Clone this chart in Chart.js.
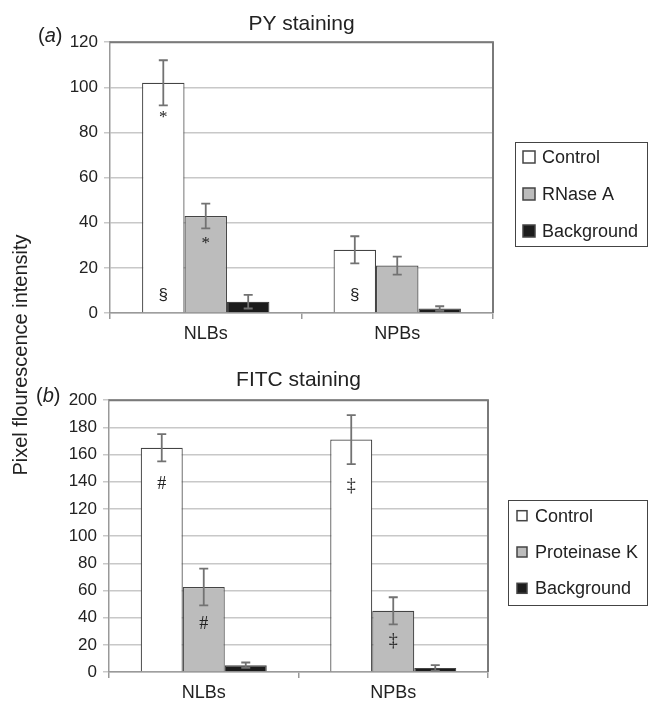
<!DOCTYPE html>
<html>
<head>
<meta charset="utf-8">
<script src="https://cdn.jsdelivr.net/npm/chart.js@4"></script>
<style>
  html, body { margin: 0; padding: 0; background: #fff; }
  #wrap { position: relative; width: 648px; height: 702px; font-family: "Liberation Sans", Arial, sans-serif; color: #222; }
  canvas { position: absolute; left: 0; }
  #chartA { top: 0; }
  #chartB { top: 345px; }
  .panel { position: absolute; font-size: 20px; line-height: 24px; }
  #ylabel { position: absolute; left: 20px; top: 355px; transform: translate(-50%, -50%) rotate(-90deg); white-space: nowrap; font-size: 20px; }
</style>
</head>
<body>
<div id="wrap">
  <canvas id="chartA" width="648" height="345"></canvas>
  <canvas id="chartB" width="648" height="357"></canvas>
  <div class="panel" style="left:38px; top:23px;">(<i>a</i>)</div>
  <div class="panel" style="left:36px; top:383px;">(<i>b</i>)</div>
  <div id="ylabel">Pixel flourescence intensity</div>
</div>
<script>
const categories = ['NLBs', 'NPBs'];

// (a) PY staining
const pyControl = [102, 28];
const pyControlErr = [10, 6];
const pyRnase = [43, 21];
const pyRnaseErr = [5.5, 4];
const pyBackground = [5, 2];
const pyBackgroundErr = [3, 1];

// (b) FITC staining
const fitcControl = [165, 171];
const fitcControlErr = [10, 18];
const fitcProtK = [62.5, 45];
const fitcProtKErr = [13.5, 10];
const fitcBackground = [5, 3];
const fitcBackgroundErr = [2, 2];

// significance marks: [series, category, symbol, value where it sits]
const pyMarks = [[0, 0, '*', 88], [0, 0, '§', 8], [1, 0, '*', 32], [0, 1, '§', 8]];
const fitcMarks = [[0, 0, '#', 138], [1, 0, '#', 35], [0, 1, '‡', 137], [1, 1, '‡', 22.5]];

Chart.defaults.font.family = '"Liberation Sans", Arial, sans-serif';
Chart.defaults.color = '#222';

const colors = ['#ffffff', '#bcbcbc', '#1c1c1c'];

const errorBars = {
  id: 'errorBars',
  afterDatasetsDraw(chart) {
    const ctx = chart.ctx, y = chart.scales.y;
    ctx.save();
    ctx.strokeStyle = '#727272';
    ctx.lineWidth = 1.8;
    chart.data.datasets.forEach((ds, i) => {
      chart.getDatasetMeta(i).data.forEach((bar, j) => {
        const v = ds.data[j], e = ds.errors[j];
        const top = y.getPixelForValue(v + e), bot = y.getPixelForValue(v - e);
        ctx.beginPath();
        ctx.moveTo(bar.x, top); ctx.lineTo(bar.x, bot);
        ctx.moveTo(bar.x - 4.5, top); ctx.lineTo(bar.x + 4.5, top);
        ctx.moveTo(bar.x - 4.5, bot); ctx.lineTo(bar.x + 4.5, bot);
        ctx.stroke();
      });
    });
    ctx.restore();
  }
};

const marks = {
  id: 'marks',
  afterDatasetsDraw(chart, args, opts) {
    const ctx = chart.ctx, y = chart.scales.y;
    ctx.save();
    ctx.fillStyle = '#222';
    ctx.textAlign = 'center';
    ctx.textBaseline = 'middle';
    opts.items.forEach(([s, c, sym, at]) => {
      const bar = chart.getDatasetMeta(s).data[c];
      if (sym === '*') ctx.font = '17px "Liberation Serif", serif';
      else if (sym === '§') ctx.font = '17px "Liberation Sans", sans-serif';
      else ctx.font = '18px "Liberation Serif", serif';
      ctx.fillText(sym, bar.x, y.getPixelForValue(at) + (sym === '*' ? 3 : 0));
    });
    ctx.restore();
  }
};

const frame = {
  id: 'frame',
  afterDraw(chart) {
    const { ctx, chartArea: a } = chart;
    ctx.save();
    ctx.strokeStyle = '#7a7a7a';
    ctx.lineWidth = 2;
    ctx.beginPath();
    ctx.moveTo(a.left, a.top); ctx.lineTo(a.right, a.top); ctx.lineTo(a.right, a.bottom);
    ctx.stroke();
    ctx.restore();
  }
};

const boxLegend = {
  id: 'boxLegend',
  afterDraw(chart, args, o) {
    const ctx = chart.ctx;
    ctx.save();
    ctx.strokeStyle = '#444';
    ctx.lineWidth = 1;
    ctx.strokeRect(o.x + 0.5, o.y + 0.5, o.w, o.h);
    ctx.font = '18px "Liberation Sans", Arial, sans-serif';
    ctx.textBaseline = 'middle';
    chart.data.datasets.forEach((ds, i) => {
      const cy = o.y + o.first + i * o.step;
      ctx.fillStyle = ds.backgroundColor;
      ctx.fillRect(o.sx, cy - o.size / 2, o.size, o.size);
      ctx.strokeStyle = '#444';
      ctx.lineWidth = 1.5;
      ctx.strokeRect(o.sx, cy - o.size / 2, o.size, o.size);
      ctx.fillStyle = '#222';
      ctx.fillText(ds.label, o.tx, cy + 1);
    });
    ctx.restore();
  }
};

function dataset(label, values, errs, i) {
  return {
    label: label,
    data: values,
    errors: errs,
    backgroundColor: colors[i],
    borderColor: '#444',
    borderWidth: 1.2,
    barPercentage: 1,
    categoryPercentage: 0.665
  };
}

function options(title, max, t, yWidth, xHeight, padRight, legendBox, markItems) {
  return {
    responsive: false,
    animation: false,
    layout: { padding: { left: 0, right: padRight, top: 0, bottom: 0 } },
    plugins: {
      legend: { display: false },
      tooltip: { enabled: false },
      title: {
        display: true,
        text: title,
        fullSize: false,
        color: '#222',
        font: { size: 21, weight: 'normal' },
        padding: t
      },
      marks: { items: markItems },
      boxLegend: legendBox
    },
    scales: {
      x: {
        grid: { offset: true, drawOnChartArea: false, tickLength: 6, color: '#999', lineWidth: 1.5 },
        border: { color: '#999', width: 1.5 },
        ticks: { color: '#222', font: { size: 18 }, padding: 4 },
        afterFit: s => { s.height = xHeight; }
      },
      y: {
        min: 0,
        max: max,
        ticks: { stepSize: 20, color: '#222', font: { size: 17 }, padding: 6 },
        grid: { color: '#c8c8c8', lineWidth: 1.5, tickLength: 6 },
        border: { color: '#999', width: 1.5 },
        afterFit: s => { s.width = yWidth; }
      }
    }
  };
}

new Chart(document.getElementById('chartA'), {
  type: 'bar',
  data: {
    labels: categories,
    datasets: [
      dataset('Control', pyControl, pyControlErr, 0),
      dataset('RNase A', pyRnase, pyRnaseErr, 1),
      dataset('Background', pyBackground, pyBackgroundErr, 2)
    ]
  },
  options: options('PY staining', 120, { top: 12, bottom: 5 }, 110, 32, 155,
    { x: 515, y: 142, w: 132, h: 104, first: 15, step: 37, sx: 523, size: 12, tx: 542 }, pyMarks),
  plugins: [errorBars, marks, frame, boxLegend]
});

new Chart(document.getElementById('chartB'), {
  type: 'bar',
  data: {
    labels: categories,
    datasets: [
      dataset('Control', fitcControl, fitcControlErr, 0),
      dataset('Proteinase K', fitcProtK, fitcProtKErr, 1),
      dataset('Background', fitcBackground, fitcBackgroundErr, 2)
    ]
  },
  options: options('FITC staining', 200, { top: 23, bottom: 7 }, 109, 30, 160,
    { x: 508, y: 155, w: 139, h: 105, first: 15.7, step: 36.3, sx: 517, size: 10, tx: 535 }, fitcMarks),
  plugins: [errorBars, marks, frame, boxLegend]
});
</script>
</body>
</html>
